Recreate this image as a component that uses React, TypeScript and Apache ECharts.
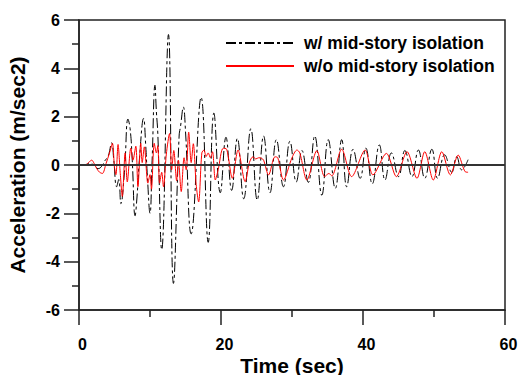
import React, { useEffect, useRef } from "react";
import * as echarts from "echarts";

// Time (sec) / acceleration (m/sec2) (extrema of each wave)
const withTime = [0, 1.0, 1.6, 2.2, 2.7, 3.2, 3.7, 4.1, 4.6, 4.9, 5.3, 5.6, 5.9, 6.4, 6.9, 7.2, 7.5, 7.9, 8.2, 8.5, 9.1, 9.4, 9.6, 10.0, 10.3, 10.7, 10.9, 11.1, 11.65, 12.6, 13.3, 14.1, 14.3, 14.7, 15.0, 15.8, 17.2, 18.2, 19.0, 19.9, 20.7, 21.5, 22.3, 23.2, 24.2, 25.1, 26.0, 26.9, 27.8, 28.8, 29.7, 30.6, 31.4, 32.3, 33.2, 34.2, 35.1, 36.1, 37.0, 37.7, 38.6, 39.6, 40.4, 41.3, 42.3, 43.1, 44.0, 45.0, 45.9, 46.9, 47.8, 48.7, 49.7, 50.5, 51.5, 52.5, 53.2, 53.9, 54.8];
const withAccel = [0, 0.02, 0.08, -0.05, -0.15, -0.05, 0.2, 0.35, 0.92, 0.2, -0.9, -0.6, -1.6, -0.3, 1.9, 1.5, 0.2, -2.1, -1.2, 0.2, 1.93, 0.8, -0.3, -2.0, 0.2, 3.3, 2.2, 1.3, -3.5, 5.4, -4.9, 1.2, 1.6, 2.4, 1.4, -2.85, 2.8, -3.2, 2.15, -1.15, 1.15, -1.05, 1.1, -1.4, 1.5, -1.45, 1.2, -1.15, 1.05, -0.9, 0.98, -0.7, 0.6, -0.72, 1.2, -1.25, 1.05, -0.97, 1.05, -0.9, 0.65, -0.55, 0.7, -0.78, 0.83, -0.62, 0.5, -0.48, 0.6, -0.48, 0.62, -0.55, 0.65, -0.55, 0.42, -0.3, 0.34, -0.2, 0.22];

const withoutTime = [0, 1.0, 1.4, 1.8, 2.1, 2.5, 2.9, 3.3, 3.8, 4.3, 4.7, 5.0, 5.2, 5.5, 5.8, 6.1, 6.5, 6.8, 7.3, 7.6, 8.0, 8.3, 8.7, 8.9, 9.2, 9.7, 10.0, 10.2, 10.6, 10.9, 11.1, 11.35, 11.65, 11.9, 12.3, 12.75, 13.05, 13.35, 13.75, 14.0, 14.4, 14.8, 15.1, 15.45, 15.8, 16.1, 16.5, 16.85, 17.3, 17.6, 17.9, 18.2, 18.5, 18.8, 19.2, 19.6, 20.3, 20.8, 21.6, 22.4, 23.4, 24.0, 24.5, 24.9, 25.3, 25.7, 26.0, 26.7, 27.6, 28.0, 28.8, 30.0, 30.7, 31.1, 32.1, 33.5, 34.6, 35.2, 35.6, 37.0, 38.4, 40.3, 41.4, 43.3, 44.7, 46.2, 47.6, 48.7, 49.9, 51.1, 52.3, 53.4, 54.4, 54.8];
const withoutAccel = [0, 0.02, 0.12, 0.2, 0.08, -0.15, -0.3, -0.35, 0.05, 0.5, 0.9, -0.1, -0.4, 0.85, -0.3, -1.3, 0.5, -0.7, 0.7, 0.2, 0.78, -0.9, 0.9, 0.1, 0.75, -0.75, -0.4, -1.0, 0.9, 0.5, 0.8, -0.75, -0.3, -0.9, 0.45, 1.3, -0.2, 0.6, -0.65, 0.2, -1.1, 0.3, -0.2, 1.36, 0.1, 0.88, -0.8, -1.53, 0.5, 0.62, 0.35, 0.5, 0.3, 0.55, -0.62, -0.2, 0.69, 0.65, -0.55, 0.62, -0.69, 0.1, 0.34, 0.25, 0.3, 0.28, 0.2, -0.41, 0.34, 0.3, -0.62, 0.3, 0.62, 0.5, -0.62, 0.59, -0.48, -0.35, -0.45, 0.65, -0.48, 0.62, -0.41, 0.48, -0.48, 0.55, -0.55, 0.55, -0.62, 0.55, -0.41, 0.41, -0.28, -0.3];

const seriesNames = ["w/ mid-story isolation", "w/o mid-story isolation"];
const xRange = [0, 60];
const yRange = [-6, 6];

const FONT = "'Liberation Sans', Arial, Helvetica, sans-serif";

export default function App() {
  const ref = useRef<HTMLDivElement>(null);
  useEffect(() => {
    if (!ref.current) return;
    const chart = echarts.init(ref.current, undefined, { renderer: "svg" });
    const zip = (a: number[], b: number[]) => a.map((t, i) => [t, b[i]]);
    chart.setOption({
      animation: false,
      backgroundColor: "#fff",
      textStyle: { fontFamily: FONT },
      grid: {
        left: 79,
        right: 14,
        top: 20,
        bottom: 65,
        show: true,
        borderColor: "#222",
        borderWidth: 1.5,
        backgroundColor: "transparent",
        outerBoundsMode: "none",
        containLabel: false,
      },
      legend: {
        data: seriesNames,
        orient: "vertical",
        left: 220,
        top: 28,
        itemWidth: 68,
        itemHeight: 14,
        itemGap: 3,
        selectedMode: false,
        itemStyle: { opacity: 0 },
        textStyle: {
          fontFamily: FONT,
          fontWeight: "bold",
          fontSize: 17.5,
          color: "#000",
          lineHeight: 20,
          padding: [0, 0, 0, 5],
        },
      },
      xAxis: {
        type: "value",
        min: xRange[0],
        max: xRange[1],
        interval: 20,
        name: "Time (sec)",
        nameLocation: "middle",
        nameGap: 44,
        nameMoveOverlap: false,
        nameTextStyle: { fontFamily: FONT, fontWeight: "bold", fontSize: 21, color: "#000", lineHeight: 22 },
        axisLine: { onZero: false, lineStyle: { color: "#222", width: 1.5 } },
        axisTick: { show: true, length: 15, lineStyle: { color: "#222", width: 1.5 } },
        minorTick: { show: true, splitNumber: 2, length: 7, lineStyle: { color: "#222", width: 1.5 } },
        splitLine: { show: false },
        axisLabel: {
          fontFamily: FONT,
          fontWeight: "bold",
          fontSize: 16,
          color: "#000",
          margin: 26,
          padding: [0, 0, 0, 7],
        },
      },
      yAxis: {
        type: "value",
        min: yRange[0],
        max: yRange[1],
        interval: 2,
        name: "Acceleration (m/sec2)",
        nameLocation: "middle",
        nameGap: 51,
        nameMoveOverlap: false,
        nameTextStyle: { fontFamily: FONT, fontWeight: "bold", fontSize: 21, color: "#000" },
        axisLine: { onZero: false, lineStyle: { color: "#222", width: 1.5 } },
        axisTick: { show: true, length: 15, lineStyle: { color: "#222", width: 1.5 } },
        minorTick: { show: true, splitNumber: 2, length: 7, lineStyle: { color: "#222", width: 1.5 } },
        splitLine: { show: false },
        axisLabel: {
          fontFamily: FONT,
          fontWeight: "bold",
          fontSize: 16,
          color: "#000",
          margin: 19,
        },
      },
      series: [
        {
          name: seriesNames[0],
          type: "line",
          data: zip(withTime, withAccel),
          symbol: "none",
          smooth: 0.45,
          color: "#000",
          lineStyle: { color: "#000", width: 1, type: [10, 3, 3, 3] },
          z: 3,
        },
        {
          name: seriesNames[1],
          type: "line",
          data: zip(withoutTime, withoutAccel),
          symbol: "none",
          smooth: 0.3,
          color: "#ff0000",
          lineStyle: { color: "#ff0000", width: 1 },
          z: 4,
        },
        {
          name: "zero",
          type: "line",
          data: [
            [xRange[0], 0],
            [xRange[1], 0],
          ],
          symbol: "none",
          silent: true,
          lineStyle: { color: "#333", width: 2 },
          z: 5,
        },
      ],
    });
    return () => chart.dispose();
  }, []);
  return (
    <div
      ref={ref}
      style={{ position: "fixed", left: 0, top: 0, width: 519, height: 375, background: "#fff" }}
    />
  );
}
